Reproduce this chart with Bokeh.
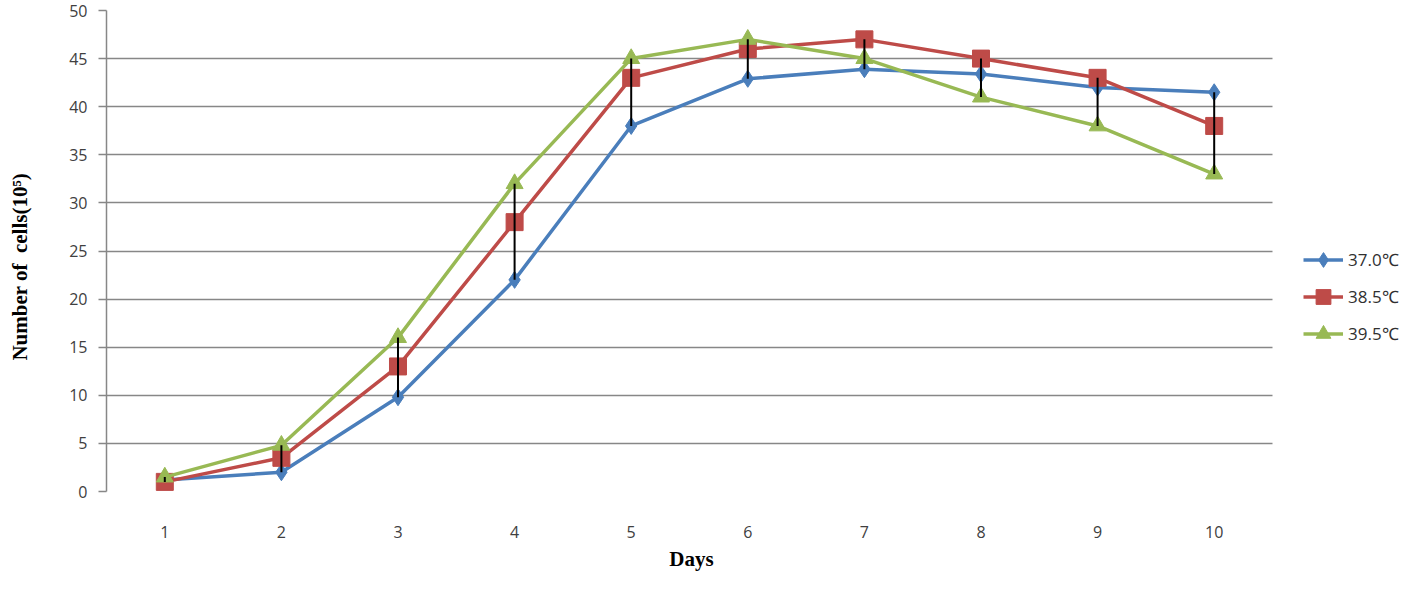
import numpy as np
from bokeh.plotting import figure
from bokeh.models import Range1d, FixedTicker, Legend, LegendItem, BoxAnnotation
from bokeh.embed import file_html
from bokeh.resources import INLINE

days = [1, 2, 3, 4, 5, 6, 7, 8, 9, 10]
t370 = [1.2, 2.0, 9.8, 22.0, 38.0, 42.9, 43.9, 43.4, 42.0, 41.5]
t385 = [1.0, 3.5, 13.0, 28.0, 43.0, 46.0, 47.0, 45.0, 43.0, 38.0]
t395 = [1.5, 4.8, 16.0, 32.0, 45.0, 47.0, 45.0, 41.0, 38.0, 33.0]
series_labels = ["37.0\u2103", "38.5\u2103", "39.5\u2103"]
y_ticks = [0, 5, 10, 15, 20, 25, 30, 35, 40, 45, 50]
x_title = "Days"
y_title = "Number of\u00a0 cells(10\u2075)"

X_END = 10.5  # end of the plotting area; beyond it is the legend strip
p = figure(width=1402, height=573, output_backend="svg", toolbar_location=None,
           x_range=Range1d(0.5, 11.615), y_range=Range1d(0, 50),
           min_border_left=106, min_border_right=0, min_border_top=10, min_border_bottom=82)
p.outline_line_color = None
p.xgrid.grid_line_color = None
p.ygrid.grid_line_color = "#878787"
p.ygrid.grid_line_width = 1.5
p.ygrid.ticker = FixedTicker(ticks=y_ticks)

p.xaxis.ticker = FixedTicker(ticks=days)
p.yaxis.ticker = FixedTicker(ticks=y_ticks)
for ax in (p.xaxis, p.yaxis):
    ax.major_label_text_font = "Open Sans"
    ax.major_label_text_font_size = "16px"
    ax.major_label_text_color = "#404040"
    ax.minor_tick_line_color = None
    ax.axis_label_text_font = "Liberation Serif"
    ax.axis_label_text_font_style = "bold"
    ax.axis_label_text_font_size = "21px"
    ax.axis_label_text_color = "#000000"

p.xaxis.axis_line_color = None
p.xaxis.major_tick_line_color = None
p.xaxis.major_label_standoff = 28
# trailing no-break spaces move the centred title left, under the plotting area's centre
p.xaxis.axis_label = x_title + "\u00a0" * 24
p.xaxis.axis_label_standoff = 6

p.yaxis.axis_line_color = "#878787"
p.yaxis.axis_line_width = 1.5
p.yaxis.major_tick_line_color = "#878787"
p.yaxis.major_tick_line_width = 1.5
p.yaxis.major_tick_out = 8
p.yaxis.major_tick_in = 0
p.yaxis.major_label_standoff = 11
# trailing no-break spaces shift the visible title slightly downward, as in the original
p.yaxis.axis_label = y_title + "\u00a0" * 6
p.yaxis.axis_label_standoff = 34

# white strip that keeps grid lines out of the legend area
p.add_layout(BoxAnnotation(left=X_END, fill_color="white", fill_alpha=1.0,
                           line_color=None))

colors = ["#4A7EBB", "#BE4B48", "#98B954"]
markers = ["diamond", "square", "triangle"]
sizes = [17, 17, 17]
items = []
for vals, c, m, s, lab in zip([t370, t385, t395], colors, markers, sizes, series_labels):
    ln = p.line(days, vals, line_color=c, line_width=3.5)
    sc = p.scatter(days, vals, marker=m, size=s, fill_color=c, line_color=c)
    items.append(LegendItem(label=lab, renderers=[ln, sc]))

arr = np.array([t370, t385, t395])
p.segment(x0=days, y0=arr.min(axis=0), x1=days, y1=arr.max(axis=0),
          line_color="black", line_width=2)

legend = Legend(items=items, location=(1197, 139), glyph_width=40, glyph_height=37,
                label_height=20, spacing=0, label_standoff=5,
                label_text_font="Open Sans", label_text_font_size="17px",
                label_text_color="#303030", border_line_color=None,
                background_fill_alpha=0, padding=0, margin=0)
p.add_layout(legend, "center")

open("out.html", "w").write(file_html(p, INLINE))
